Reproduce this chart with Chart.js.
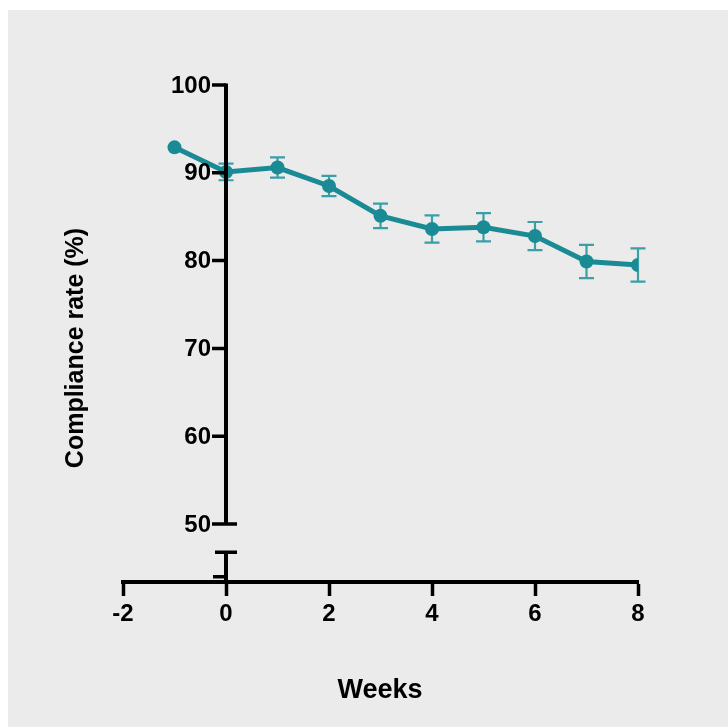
<!DOCTYPE html>
<html>
<head>
<meta charset="utf-8">
<script src="https://cdn.jsdelivr.net/npm/chart.js@4.4.1/dist/chart.umd.min.js"></script>
<style>
  html, body { margin: 0; padding: 0; background: #ffffff; }
  #wrap { width: 728px; height: 727px; }
</style>
</head>
<body>
<div id="wrap"><canvas id="grafico" width="728" height="727"></canvas></div>
<script>
// datos
const semanas = [-1, 0, 1, 2, 3, 4, 5, 6, 7, 8];
const cumplimiento = [92.9, 90.1, 90.6, 88.5, 85.1, 83.6, 83.8, 82.8, 79.9, 79.5];
const errorEst = [0, 0.95, 1.15, 1.15, 1.4, 1.55, 1.6, 1.6, 1.9, 1.9];
const ticksY = [50, 60, 70, 80, 90, 100];
const ticksX = [-2, 0, 2, 4, 6, 8];

const tituloX = 'Weeks';
const tituloY = 'Compliance rate (%)';

const color = '#1a8b95';
const colorError = '#3a9fa7';
const fuente = '"Liberation Sans", Arial, sans-serif';

// corte del eje y
const corteArriba = 50;
const corteAbajo = 46.8;
const tickAbajo = 44;

const fondo = {
    id: 'fondo',
    beforeDraw(chart) {
        const ctx = chart.ctx;
        ctx.save();
        ctx.fillStyle = '#ebebeb';
        ctx.fillRect(8, 10, chart.width - 8, chart.height - 10);
        ctx.restore();
    }
};

const barrasError = {
    id: 'barrasError',
    beforeDatasetsDraw(chart) {
        const ctx = chart.ctx;
        const sx = chart.scales.x;
        const sy = chart.scales.y;
        ctx.save();
        ctx.strokeStyle = colorError;
        ctx.lineWidth = 2.2;
        semanas.forEach((w, i) => {
            if (!errorEst[i]) return;
            const x = sx.getPixelForValue(w);
            const y1 = sy.getPixelForValue(cumplimiento[i] + errorEst[i]);
            const y2 = sy.getPixelForValue(cumplimiento[i] - errorEst[i]);
            ctx.beginPath();
            ctx.moveTo(x, y1); ctx.lineTo(x, y2);
            ctx.moveTo(x - 7.5, y1); ctx.lineTo(x + 7.5, y1);
            ctx.moveTo(x - 7.5, y2); ctx.lineTo(x + 7.5, y2);
            ctx.stroke();
        });
        ctx.restore();
    }
};

const ejes = {
    id: 'ejes',
    afterDraw(chart) {
        const ctx = chart.ctx;
        const sx = chart.scales.x;
        const sy = chart.scales.y;
        const x0 = sx.getPixelForValue(0);
        ctx.save();
        ctx.strokeStyle = '#000';
        ctx.lineWidth = 4;
        ctx.lineCap = 'butt';
        // tramo superior
        ctx.beginPath();
        ctx.moveTo(x0, sy.getPixelForValue(100) - 1.5);
        ctx.lineTo(x0, sy.getPixelForValue(corteArriba));
        ctx.stroke();
        // tramo inferior
        ctx.beginPath();
        ctx.moveTo(x0, sy.getPixelForValue(corteAbajo));
        ctx.lineTo(x0, chart.chartArea.bottom);
        ctx.stroke();
        ctx.lineWidth = 3.5;
        ctx.beginPath();
        ticksY.forEach(v => {
            const y = sy.getPixelForValue(v);
            ctx.moveTo(x0 - 14, y); ctx.lineTo(x0, y);
        });
        const yA = sy.getPixelForValue(corteArriba);
        ctx.moveTo(x0, yA); ctx.lineTo(x0 + 11, yA);
        const yB = sy.getPixelForValue(corteAbajo);
        ctx.moveTo(x0 - 11, yB); ctx.lineTo(x0 + 11, yB);
        const yC = sy.getPixelForValue(tickAbajo);
        ctx.moveTo(x0 - 13, yC); ctx.lineTo(x0, yC);
        ctx.stroke();

        // etiquetas del eje y
        ctx.fillStyle = '#000';
        ctx.font = 'bold 24px ' + fuente;
        ctx.textAlign = 'right';
        ctx.textBaseline = 'middle';
        ticksY.forEach(v => {
            ctx.fillText(String(v), x0 - 15, sy.getPixelForValue(v) + 1);
        });

        // titulos
        ctx.font = 'bold 27px ' + fuente;
        ctx.textAlign = 'center';
        ctx.fillText(tituloX, 380, 691);
        ctx.font = 'bold 25px ' + fuente;
        ctx.translate(76, 348);
        ctx.rotate(-Math.PI / 2);
        ctx.fillText(tituloY, 0, 0);
        ctx.restore();
    }
};

const ctx = document.getElementById('grafico').getContext('2d');

const grafico = new Chart(ctx, {
    type: 'line',
    data: {
        datasets: [{
            label: tituloY,
            data: semanas.map((w, i) => ({ x: w, y: cumplimiento[i] })),
            borderColor: color,
            backgroundColor: color,
            borderWidth: 5,
            pointRadius: 7,
            pointHoverRadius: 7,
            pointBackgroundColor: color,
            pointBorderWidth: 0,
            tension: 0
        }]
    },
    plugins: [fondo, barrasError, ejes],
    options: {
        responsive: false,
        animation: false,
        events: [],
        layout: { padding: { left: 123, right: 90, top: 85, bottom: 105 } },
        plugins: {
            legend: { display: false },
            tooltip: { enabled: false }
        },
        scales: {
            x: {
                type: 'linear',
                position: 'bottom',
                min: -2,
                max: 8,
                afterBuildTicks: s => { s.ticks = ticksX.map(v => ({ value: v })); },
                afterFit: s => { s.height = 40; },
                border: { display: true, color: '#000', width: 4 },
                grid: { drawOnChartArea: false, drawTicks: true, tickLength: 14, tickWidth: 3.5, tickColor: '#000' },
                ticks: { color: '#000', padding: 4, maxRotation: 0, autoSkip: false, font: { family: fuente, size: 24, weight: 'bold' } }
            },
            y: {
                type: 'linear',
                position: { x: 0 },
                min: 43.4,
                max: 100,
                afterBuildTicks: s => { s.ticks = ticksY.map(v => ({ value: v })); },
                afterFit: s => { s.width = 0; },
                border: { display: false },
                grid: { display: false },
                ticks: { display: false }
            }
        }
    }
});
</script>
</body>
</html>
